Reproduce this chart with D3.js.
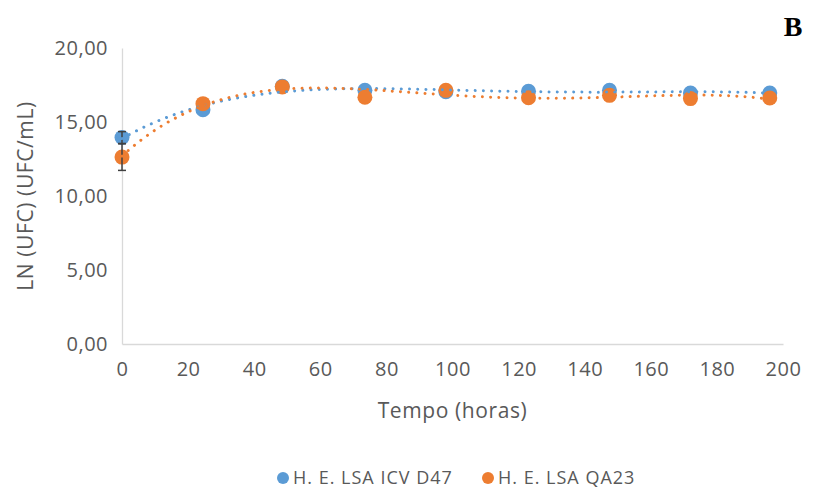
<!DOCTYPE html>
<html lang="pt">
  <head>
    <meta charset="utf-8" />
    <title>Crescimento H. E. LSA</title>
    <script src="https://cdnjs.cloudflare.com/ajax/libs/d3/7.8.5/d3.min.js"></script>
    <style>
      body {
        margin: 0;
        background: #ffffff;
      }
      svg text {
        font-family: "Open Sans", sans-serif;
        fill: #595959;
      }
      svg text.panel {
        font-family: "Liberation Serif", "Times New Roman", serif;
        fill: #000000;
      }
      .axis path,
      .axis line {
        stroke: #d9d9d9;
      }
    </style>
  </head>
  <body>
    <div id="chart"></div>
    <script>
      // tempo (horas) of each sample
      const hours = [0, 24.5, 48.5, 73.5, 98, 123, 147.5, 172, 196];
      // LN (UFC) values
      const icvD47 = [13.95, 15.83, 17.41, 17.14, 17.05, 17.07, 17.14, 16.96, 16.96];
      const qa23 = [12.63, 16.24, 17.37, 16.67, 17.14, 16.64, 16.8, 16.58, 16.62];
      const icvD47Err = [0.4, 0, 0, 0, 0, 0, 0, 0, 0];
      const qa23Err = [0.9, 0, 0, 0, 0, 0, 0, 0, 0];
      const xTicks = [0, 20, 40, 60, 80, 100, 120, 140, 160, 180, 200];
      const yTicks = [0, 5, 10, 15, 20];

      const series = [
        { name: "H. E. LSA ICV D47", values: icvD47, err: icvD47Err, color: "#5b9bd5" },
        { name: "H. E. LSA QA23", values: qa23, err: qa23Err, color: "#ed7d31" },
      ];

      const width = 822;
      const height = 490;
      const margin = { top: 48, right: 39, bottom: 146, left: 122 };

      const svg = d3
        .select("#chart")
        .append("svg")
        .attr("width", width)
        .attr("height", height);

      const x = d3
        .scaleLinear()
        .domain([0, 200])
        .range([margin.left, width - margin.right]);
      const y = d3
        .scaleLinear()
        .domain([0, 20])
        .range([height - margin.bottom, margin.top]);

      const fmt = (d) => d3.format(".2f")(d).replace(".", ",");

      // axes (no tick marks, light grey lines)
      const xAxis = svg
        .append("g")
        .attr("class", "axis")
        .attr("transform", `translate(0,${y(0)})`)
        .call(d3.axisBottom(x).tickValues(xTicks).tickSize(0).tickPadding(18));
      xAxis.select(".domain").attr("stroke-width", 1.3);

      const yAxis = svg
        .append("g")
        .attr("class", "axis")
        .attr("transform", `translate(${x(0)},0)`)
        .call(
          d3.axisLeft(y).tickValues(yTicks).tickFormat(fmt).tickSize(0).tickPadding(14)
        );
      yAxis.select(".domain").attr("stroke-width", 1.3);

      svg
        .selectAll(".axis text")
        .attr("font-size", 20)
        .attr("letter-spacing", 0.5)
        .attr("fill", "#595959")
        .attr("font-family", null);

      // axis titles
      svg
        .append("text")
        .attr("x", (x(0) + x(200)) / 2)
        .attr("y", 418)
        .attr("text-anchor", "middle")
        .attr("font-size", 21)
        .attr("letter-spacing", 0.6)
        .text("Tempo (horas)");

      svg
        .append("text")
        .attr("transform", `translate(33,${(y(0) + y(20)) / 2}) rotate(-90)`)
        .attr("text-anchor", "middle")
        .attr("font-size", 21)
        .attr("letter-spacing", 0.6)
        .text("LN (UFC) (UFC/mL)");

      // panel letter
      svg
        .append("text")
        .attr("class", "panel")
        .attr("x", 793)
        .attr("y", 36)
        .attr("text-anchor", "middle")
        .attr("font-size", 28)
        .attr("font-weight", "bold")
        .text("B");

      // polynomial least squares trendline
      function polyFit(xs, ys, order) {
        const s = 200;
        const n = order + 1;
        const A = [];
        for (let i = 0; i < n; i++) {
          A.push(new Array(n + 1).fill(0));
        }
        xs.forEach((xv, k) => {
          const t = xv / s;
          for (let i = 0; i < n; i++) {
            for (let j = 0; j < n; j++) A[i][j] += Math.pow(t, i + j);
            A[i][n] += Math.pow(t, i) * ys[k];
          }
        });
        // gaussian elimination
        for (let c = 0; c < n; c++) {
          let p = c;
          for (let r = c + 1; r < n; r++) if (Math.abs(A[r][c]) > Math.abs(A[p][c])) p = r;
          [A[c], A[p]] = [A[p], A[c]];
          for (let r = 0; r < n; r++) {
            if (r === c) continue;
            const f = A[r][c] / A[c][c];
            for (let k = c; k <= n; k++) A[r][k] -= f * A[c][k];
          }
        }
        const coef = A.map((row, i) => row[n] / A[i][i]);
        return (xv) => coef.reduce((acc, cf, i) => acc + cf * Math.pow(xv / s, i), 0);
      }

      // markers
      series.forEach((s) => {
        svg
          .append("g")
          .selectAll("circle")
          .data(hours)
          .join("circle")
          .attr("cx", (d) => x(d))
          .attr("cy", (d, i) => y(s.values[i]))
          .attr("r", 7.5)
          .attr("fill", s.color);
      });

      // error bars
      series.forEach((s) => {
        const g = svg.append("g").attr("stroke", "#404040").attr("stroke-width", 1.5);
        hours.forEach((h, i) => {
          if (!s.err[i]) return;
          const cx = x(h);
          const y1 = y(s.values[i] + s.err[i]);
          const y2 = y(s.values[i] - s.err[i]);
          g.append("line").attr("x1", cx).attr("x2", cx).attr("y1", y1).attr("y2", y2);
          [y1, y2].forEach((yy) =>
            g.append("line").attr("x1", cx - 4).attr("x2", cx + 4).attr("y1", yy).attr("y2", yy)
          );
        });
      });

      // dotted trendlines
      series.forEach((s) => {
        const f = polyFit(hours, s.values, 4);
        const pts = d3.range(0, hours[hours.length - 1] + 0.5, 1).map((h) => [h, f(h)]);
        svg
          .append("path")
          .datum(pts)
          .attr("fill", "none")
          .attr("stroke", s.color)
          .attr("stroke-width", 3)
          .attr("stroke-linecap", "round")
          .attr("stroke-dasharray", "0.01 8.2")
          .attr(
            "d",
            d3
              .line()
              .x((d) => x(d[0]))
              .y((d) => y(d[1]))
          );
      });

      // legend
      const legend = svg.append("g").attr("transform", "translate(0,478)");
      const legendX = [283, 488];
      series.forEach((s, i) => {
        legend
          .append("circle")
          .attr("cx", legendX[i])
          .attr("cy", 0)
          .attr("r", 6)
          .attr("fill", s.color);
        legend
          .append("text")
          .attr("x", legendX[i] + 10)
          .attr("y", 0)
          .attr("dy", "0.35em")
          .attr("font-size", 18)
          .attr("letter-spacing", 1)
          .text(s.name);
      });
    </script>
  </body>
</html>
